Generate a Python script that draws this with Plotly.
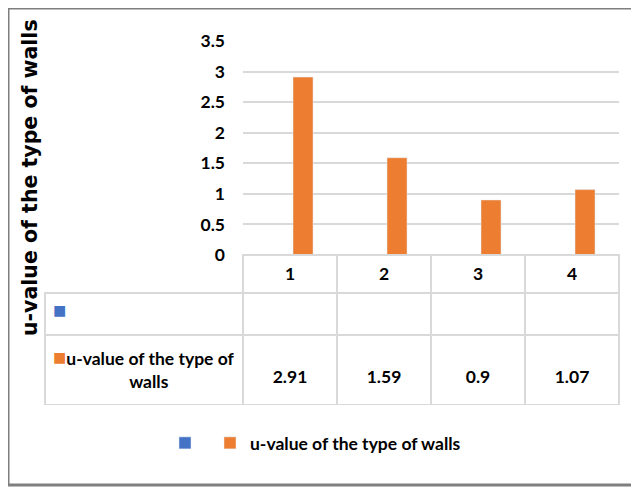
import plotly.graph_objects as go

# data
wall_types = [1, 2, 3, 4]
u_values = [2.91, 1.59, 0.9, 1.07]
empty_series = [None, None, None, None]
series_name = "u-value of the type of walls"
y_ticks = [0, 0.5, 1, 1.5, 2, 2.5, 3, 3.5]

ORANGE = "#ED7D31"
BLUE = "#4472C4"
GRID = "#D9D9D9"
FONT = "Lato"
FS = 17.5

# the page has an 8px body margin, so the figure starts at (8, 8) on screen
OFF = 8
W, H = 639 - OFF, 487 - OFF
ML, MR, MT, MB = 45 - OFF, 20, 41 - OFF, 82
plot_w = W - ML - MR
plot_h = H - MT - MB


def px_x(sx):
    return (sx - OFF - ML) / plot_w


def px_y(sy):
    return (H - MB - (sy - OFF)) / plot_h


fig = go.Figure()

# empty blue series (only visible in the legend and the table)
fig.add_bar(x=wall_types, y=empty_series, name="", marker_color=BLUE,
            width=0.213, offset=-0.2)
fig.add_bar(x=wall_types, y=u_values, name=series_name, marker_color=ORANGE,
            width=0.213, offset=0.032)

col_w = [198, 94, 94, 94, 94]
tfont = dict(family=FONT, size=FS, color="black")

# data table: header row + empty blue row
fig.add_trace(go.Table(
    domain=dict(x=[0, 1], y=[px_y(335), px_y(255)]),
    columnwidth=col_w,
    header=dict(
        values=[""] + [f"<b>{t}</b>" for t in wall_types],
        height=38,
        align="center",
        fill_color=["rgba(0,0,0,0)"] + ["white"] * 4,
        line=dict(color=["rgba(0,0,0,0)"] + [GRID] * 4, width=1.5),
        font=tfont,
    ),
    cells=dict(
        values=[["■"], [""], [""], [""], [""]],
        height=42,
        align=["left", "center", "center", "center", "center"],
        fill_color="white",
        line=dict(color=GRID, width=1.5),
        font=dict(family=FONT, size=[22] + [FS] * 4, color=[BLUE] + ["black"] * 4),
    ),
))

# data table: orange series row
orange_label = (f'<span style="color:{ORANGE};font-size:22px">■</span>'
                "<b>u-value of the type of</b><br>"
                + "\u00a0" * 17 + "<b>walls</b>")
fig.add_trace(go.Table(
    domain=dict(x=[0, 1], y=[px_y(405), px_y(335)]),
    columnwidth=col_w,
    header=dict(
        values=[orange_label] + [f"\u00a0<br><b>{v:g}</b>" for v in u_values],
        height=70,
        align=["left", "center", "center", "center", "center"],
        fill_color="white",
        line=dict(color=GRID, width=1.5),
        font=tfont,
    ),
    cells=dict(values=[]),
))

fig.update_layout(
    width=W, height=H, autosize=False,
    margin=dict(l=ML, r=MR, t=MT, b=MB),
    plot_bgcolor="white", paper_bgcolor="white",
    barmode="overlay",
    showlegend=True,
    legend=dict(orientation="h", x=px_x(165), xanchor="left",
                y=px_y(443), yanchor="middle",
                font=dict(family=FONT, size=FS, color="black", weight="bold")),
    xaxis=dict(domain=[px_x(243), 1], range=[0.5, 4.5], showticklabels=False,
               showgrid=False, zeroline=False, ticks=""),
    yaxis=dict(domain=[px_y(255), 1], range=[0, 3.5], tickvals=y_ticks,
               gridcolor=GRID, gridwidth=1.5, zeroline=False, ticks="",
               ticklabelstandoff=17,
               tickfont=dict(family=FONT, size=FS, color="black", weight="bold")),
    annotations=[dict(
        text="<b>u-value of the type of walls</b>", textangle=-90,
        xref="paper", yref="paper", x=px_x(30), y=px_y(178),
        xanchor="center", yanchor="middle",
        showarrow=False, font=dict(family="DejaVu Sans", size=20.5, color="black"),
    )],
    shapes=[dict(type="rect", xref="paper", yref="paper",
                 x0=px_x(8), x1=px_x(660), y0=px_y(485), y1=px_y(8),
                 line=dict(color="#7F7F7F", width=3), layer="below")],
)

fig.write_html("out.html")
